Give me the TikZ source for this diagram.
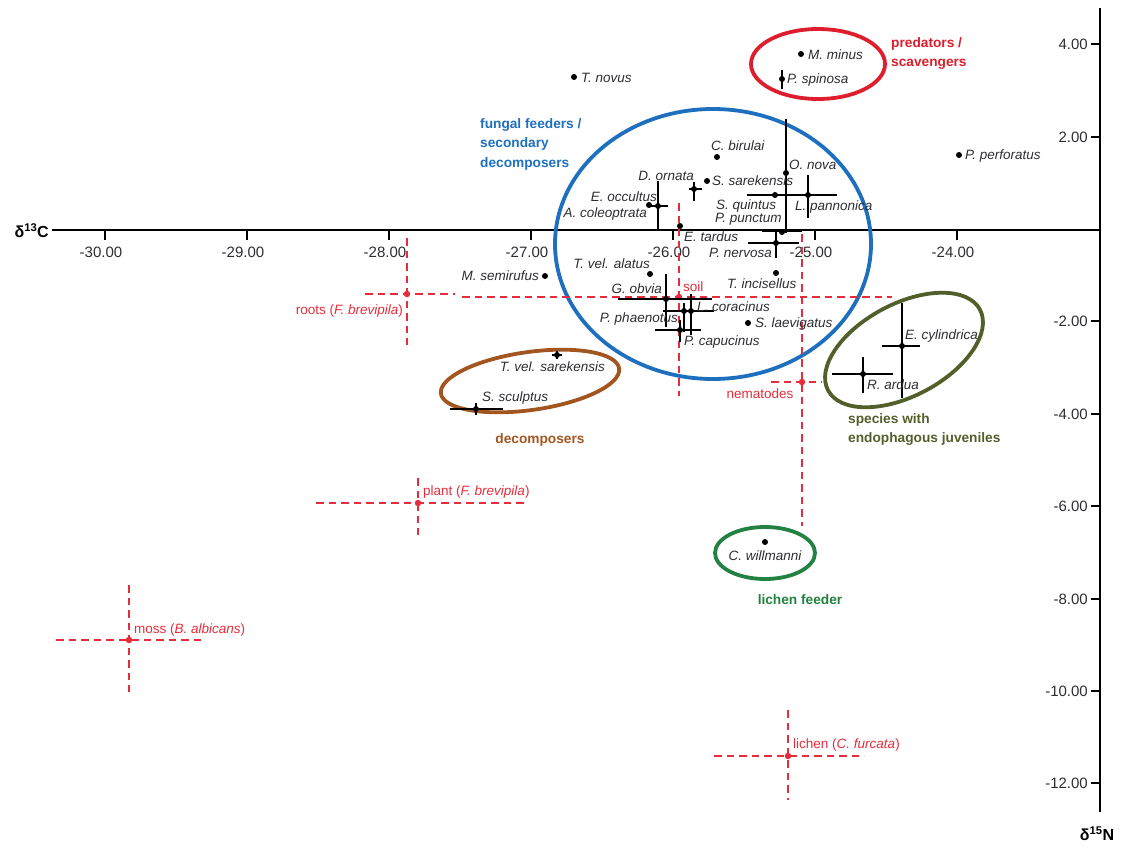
\documentclass[tikz,border=0pt]{standalone}
\usepackage{fontspec}
\setmainfont{Liberation Sans}
\definecolor{cblue}{RGB}{30,112,190}
\definecolor{cred}{RGB}{222,30,45}
\definecolor{colive}{RGB}{82,95,42}
\definecolor{cbrown}{RGB}{162,85,30}
\definecolor{cgreen}{RGB}{35,130,65}
\definecolor{csrc}{RGB}{230,45,60}
\definecolor{ctxt}{RGB}{45,45,50}
\tikzset{
  dot/.style={circle,fill=black,inner sep=0pt,minimum size=6pt},
  ebar/.style={black,line width=1.6pt},
  src/.style={csrc,line width=2.1pt,dash pattern=on 7.5pt off 5pt},
  srcdot/.style={circle,fill=csrc,inner sep=0pt,minimum size=6.5pt},
  sp/.style={font=\fontsize{13.5pt}{15pt}\selectfont\itshape,text=ctxt,inner sep=0pt},
  srclab/.style={font=\fontsize{13.5pt}{15pt}\selectfont,text=csrc,inner sep=0pt},
  grp/.style={font=\fontsize{13.7pt}{19.5pt}\selectfont\bfseries,inner sep=0pt,align=left},
  tick/.style={black,line width=2pt},
  ticklab/.style={font=\fontsize{15pt}{17pt}\selectfont,text=ctxt,inner sep=0pt},
  axis/.style={black,line width=2.6pt},
  grpell/.style={line width=3.8pt}
}
\begin{document}
\begin{tikzpicture}[x=1pt,y=-1pt]
\useasboundingbox (0,0) rectangle (1121,846);
% axes
\coordinate (xa) at (52,230);
\coordinate (xb) at (1100,230);
\coordinate (ya) at (1100,8);
\coordinate (yb) at (1100,812);
\draw[axis] (xa) -- (xb);
\draw[axis] (ya) -- (yb);
\node[font=\fontsize{16pt}{18pt}\selectfont\bfseries,anchor=east,inner sep=0pt] (xlab) at (49,231) {δ\textsuperscript{13}C};
\node[font=\fontsize{16pt}{18pt}\selectfont\bfseries,inner sep=0pt] (ylab) at (1097,834) {δ\textsuperscript{15}N};
% x ticks
\foreach \v/\px in {-30.00/105,-29.00/247,-28.00/389,-27.00/531,-26.00/673,-25.00/815,-24.00/957}{
  \draw[tick] (\px,230) -- (\px,240);
  \node[ticklab] at (\px-4,252) {\v};
}
% y ticks
\foreach \v/\py in {4.00/44,2.00/137,-2.00/321,-4.00/414,-6.00/506,-8.00/599,-10.00/691,-12.00/783}{
  \draw[tick] (1091,\py) -- (1100,\py);
  \node[ticklab,anchor=east] at (1088,\py) {\v};
}
% group ellipses
\draw[grpell,cblue] (713,244) ellipse [x radius=158, y radius=135];
\draw[grpell,cred] (818,64) ellipse [x radius=67, y radius=35];
\draw[grpell,cbrown,rotate around={8:(530,381)}] (530,381) ellipse [x radius=90, y radius=29];
\draw[grpell,colive,rotate around={28:(904,350)}] (904,350) ellipse [x radius=86, y radius=46];
\draw[grpell,cgreen] (765,553) ellipse [x radius=50, y radius=26];
% group labels
\node[grp,text=cred,anchor=north west] (gpred) at (891,37) {predators /\\scavengers};
\node[grp,text=cblue,anchor=north west] (gfung) at (480,118) {fungal feeders /\\secondary\\decomposers};
\node[grp,text=cbrown] (gdec) at (540,440) {decomposers};
\node[grp,text=colive,anchor=north west] (gendo) at (848,413) {species with\\endophagous juveniles};
\node[grp,text=cgreen] (glich) at (800,600) {lichen feeder};
% food sources (dashed crosses)
\node[srcdot] (roots) at (407,294) {};
\draw[src] (365,294) -- (455,294);
\draw[src] (407,238) -- (407,345);
\node[srclab,anchor=east] (rootslab) at (403,311) {roots (\textit{F. brevipila})};
\node[srcdot] (soil) at (679,297) {};
\draw[src] (462,297) -- (892,297);
\draw[src] (679,203) -- (679,396);
\node[srclab,anchor=west] (soillab) at (683,287) {soil};
\node[srcdot] (nema) at (802,382) {};
\draw[src] (771,382) -- (822,382);
\draw[src] (802,234) -- (802,526);
\node[srclab] (nemalab) at (760,394) {nematodes};
\node[srcdot] (plant) at (418,503) {};
\draw[src] (316,503) -- (527,503);
\draw[src] (418,478) -- (418,535);
\node[srclab,anchor=west] (plantlab) at (423,492) {plant (\textit{F. brevipila})};
\node[srcdot] (moss) at (129,640) {};
\draw[src] (56,640) -- (205,640);
\draw[src] (129,585) -- (129,692);
\node[srclab,anchor=west] (mosslab) at (134,630) {moss (\textit{B. albicans})};
\node[srcdot] (lichen) at (788,756) {};
\draw[src] (714,756) -- (864,756);
\draw[src] (788,710) -- (788,800);
\node[srclab,anchor=west] (lichenlab) at (793,745) {lichen (\textit{C. furcata})};
% error bars
\draw[ebar] (782,70) -- (782,89);           % P. spinosa
\draw[ebar] (786,119) -- (786,233);         % O. nova
\draw[ebar] (747,195) -- (837,195);         % S. quintus / L. pannonica
\draw[ebar] (808,175) -- (808,218);         % L. pannonica
\draw[ebar] (762,231) -- (802,231);         % P. punctum
\draw[ebar] (748,243) -- (799,243);         % P. nervosa
\draw[ebar] (776,232) -- (776,258);
\draw[ebar] (689,189) -- (702,189);         % D. ornata
\draw[ebar] (694,182) -- (694,201);
\draw[ebar] (650,206) -- (668,206);         % E. occultus
\draw[ebar] (658,181) -- (658,229);
\draw[ebar] (618,299) -- (712,299);         % G. obvia
\draw[ebar] (666,274) -- (666,327);
\draw[ebar] (663,311) -- (714,311);         % P. phaenotus / L. coracinus
\draw[ebar] (684,303) -- (684,332);
\draw[ebar] (691,294) -- (691,335);
\draw[ebar] (655,330) -- (701,330);         % P. capucinus
\draw[ebar] (680,320) -- (680,342);
\draw[ebar] (552,355) -- (562,355);         % T. vel. sarekensis
\draw[ebar] (557,351) -- (557,359);
\draw[ebar] (450,409) -- (503,409);         % S. sculptus
\draw[ebar] (476,403) -- (476,415);
\draw[ebar] (882,346) -- (920,346);         % E. cylindrica
\draw[ebar] (902,303) -- (902,398);
\draw[ebar] (832,374) -- (893,374);         % R. ardua
\draw[ebar] (863,357) -- (863,393);
% species points
\node[dot] (tnov) at (574,77) {};
\node[dot] (mmin) at (801,54) {};
\node[dot] (pspi) at (782,79) {};
\node[dot] (pper) at (959,155) {};
\node[dot] (cbir) at (717,157) {};
\node[dot] (onov) at (786,173) {};
\node[dot] (ssar) at (707,181) {};
\node[dot] (dorn) at (694,189) {};
\node[dot] (eocc) at (658,206) {};
\node[dot] (acol) at (649,205) {};
\node[dot] (squi) at (775,195) {};
\node[dot] (lpan) at (808,195) {};
\node[dot] (ppun) at (782,232) {};
\node[dot] (etar) at (680,226) {};
\node[dot] (pner) at (776,243) {};
\node[dot] (tval) at (650,274) {};
\node[dot] (msem) at (545,276) {};
\node[dot] (tinc) at (776,273) {};
\node[dot] (gobv) at (666,299) {};
\node[dot] (lcor) at (691,311) {};
\node[dot] (ppha) at (684,311) {};
\node[dot] (slae) at (748,323) {};
\node[dot] (pcap) at (680,330) {};
\node[dot] (tvsa) at (557,355) {};
\node[dot] (sscu) at (476,409) {};
\node[dot] (ecyl) at (902,346) {};
\node[dot] (rard) at (863,374) {};
\node[dot] (cwil) at (765,542) {};
% species labels
\node[sp,anchor=west] (ltnov) at (581,78) {T. novus};
\node[sp,anchor=west] (lmmin) at (808,55) {M. minus};
\node[sp,anchor=west] (lpspi) at (787,80) {P. spinosa};
\node[sp,anchor=west] (lpper) at (965,156) {P. perforatus};
\node[sp,anchor=west] (lcbir) at (711,146) {C. birulai};
\node[sp,anchor=west] (lonov) at (789,165) {O. nova};
\node[sp,anchor=west] (lssar) at (712,181) {S. sarekensis};
\node[sp,anchor=east] (ldorn) at (694,176) {D. ornata};
\node[sp,anchor=east] (leocc) at (657,197) {E. occultus};
\node[sp,anchor=east] (lacol) at (647,214) {A. coleoptrata};
\node[sp,anchor=west] (lsqui) at (716,206) {S. quintus};
\node[sp,anchor=west] (llpan) at (795,207) {L. pannonica};
\node[sp,anchor=west] (lppun) at (715,219) {P. punctum};
\node[sp,anchor=west] (letar) at (684,237) {E. tardus};
\node[sp,anchor=east] (lpner) at (772,253) {P. nervosa};
\node[sp,anchor=east] (ltval) at (650,264) {T. vel. alatus};
\node[sp,anchor=east] (lmsem) at (539,276) {M. semirufus};
\node[sp,anchor=west] (ltinc) at (727,284) {T. incisellus};
\node[sp,anchor=east] (lgobv) at (662,289) {G. obvia};
\node[sp,anchor=west] (llcor) at (697,307) {L. coracinus};
\node[sp,anchor=east] (lppha) at (678,319) {P. phaenotus};
\node[sp,anchor=west] (lslae) at (755,324) {S. laevigatus};
\node[sp,anchor=west] (lpcap) at (684,342) {P. capucinus};
\node[sp,anchor=east] (ltvsa) at (605,367) {T. vel. sarekensis};
\node[sp,anchor=west] (lsscu) at (482,398) {S. sculptus};
\node[sp,anchor=west] (lecyl) at (905,336) {E. cylindrica};
\node[sp,anchor=west] (lrard) at (867,385) {R. ardua};
\node[sp] (lcwil) at (765,556) {C. willmanni};
\end{tikzpicture}
\end{document}
